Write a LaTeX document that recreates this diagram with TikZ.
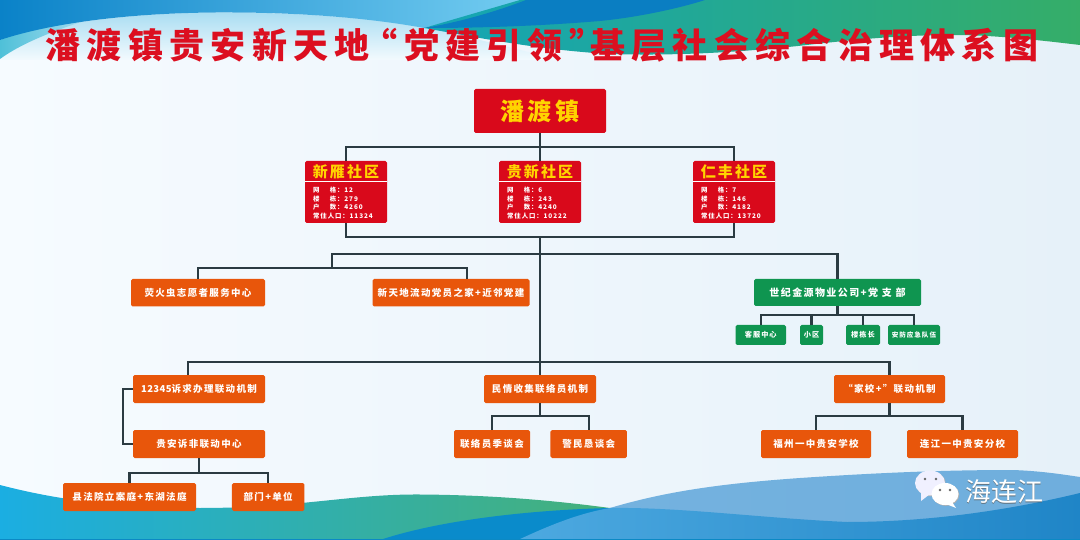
\documentclass[tikz,border=0pt]{standalone}
\usepackage{fontspec}
\setmainfont{Noto Sans CJK SC}
\newfontfamily\titlefont[BoldFont={Noto Sans CJK SC Black},BoldFeatures={LetterSpace=18}]{Noto Sans CJK SC}
\newfontfamily\headfont[BoldFont={Noto Sans CJK SC Black},BoldFeatures={LetterSpace=14}]{Noto Sans CJK SC}
\newfontfamily\boxfont[BoldFeatures={LetterSpace=14}]{Noto Sans CJK SC}
\newfontfamily\digitfont[BoldFeatures={LetterSpace=4}]{Noto Sans CJK SC}
\usetikzlibrary{calc}
\definecolor{linec}{HTML}{2B3B42}
\definecolor{redn}{HTML}{D9091B}
\definecolor{titlec}{HTML}{DC0F20}
\definecolor{orangen}{HTML}{E8560B}
\definecolor{greenn}{HTML}{0F9550}
\definecolor{yellown}{HTML}{FFD400}
\definecolor{bgl}{HTML}{F6FBFF}
\definecolor{bgr}{HTML}{E6F1F9}
\definecolor{topa}{HTML}{0A82C8}
\definecolor{topm}{HTML}{22A4DF}
\definecolor{topb}{HTML}{74CDF1}
\definecolor{palea}{HTML}{A9DDF2}
\definecolor{paleb}{HTML}{F3FAFE}
\definecolor{tealc}{HTML}{4FC0D8}
\definecolor{swoosh}{HTML}{0A7EC2}
\definecolor{gra}{HTML}{14A5B6}
\definecolor{grb}{HTML}{35AD68}
\definecolor{bota}{HTML}{1BAEE2}
\definecolor{botb}{HTML}{45B07A}
\definecolor{midblue}{HTML}{0A8BCB}
\definecolor{lowa}{HTML}{4DA9E0}
\definecolor{lowb}{HTML}{1F85C7}
\definecolor{upa}{HTML}{74B2DF}
\definecolor{upb}{HTML}{6FAEDD}
\tikzset{
  conn/.style={draw=linec,line width=2.4pt,line join=miter},
  basebox/.style={rectangle,rounded corners=1.6pt,inner sep=0pt,text=white,align=center},
  orangebox/.style={basebox,fill=orangen,font=\boxfont\bfseries\fontsize{9.5}{11}\selectfont,minimum height=28pt},
  greenbox/.style={basebox,fill=greenn,font=\boxfont\bfseries\fontsize{10}{12}\selectfont,minimum height=27pt},
  smallgreen/.style={basebox,fill=greenn,font=\boxfont\bfseries\fontsize{7.2}{9}\selectfont,minimum height=20pt},
  commbox/.style={basebox,fill=redn,minimum width=82pt,minimum height=62pt},
  commhead/.style={inner sep=0pt,text=yellown,font=\headfont\bfseries\fontsize{15}{17}\selectfont},
  infotext/.style={inner sep=0pt,anchor=west,text=white,font=\boxfont\bfseries\fontsize{6.4}{7}\selectfont},
}
\newcommand{\community}[7]{%
  \node[commbox] (#1) at (#2,192) {};
  \draw[white,line width=1pt] (#2-41,182) -- (#2+41,182);
  \node[commhead] (#1h) at (#2,172) {#3};
  \node[infotext] (#1a) at (#2-33,190.5) {网\hspace{1.6em}格：#4};
  \node[infotext] (#1b) at (#2-33,199) {楼\hspace{1.6em}栋：#5};
  \node[infotext] (#1c) at (#2-33,207.5) {户\hspace{1.6em}数：#6};
  \node[infotext] (#1d) at (#2-33,216) {常住人口：#7};
}
\begin{document}
\begin{tikzpicture}[x=1pt,y=-1pt]
\useasboundingbox (0,0) rectangle (1080,540);
% ---------- background
\path[left color=bgl,right color=bgr] (0,0) rectangle (1080,540);
% top waves
\path[top color=palea,bottom color=paleb] (0,40) .. controls (60,20) and (150,12) .. (230,12.5)
  .. controls (330,13) and (400,22) .. (440,30) .. controls (480,40) and (520,50) .. (560,60) -- (0,60) -- cycle;
\path[left color=tealc,right color=palea] (0,40) .. controls (25,30) and (50,24) .. (90,19) .. controls (40,35) and (15,48) .. (0,59) -- cycle;
\path[left color=topa,middle color=topm,right color=topb] (0,0) -- (530,0) -- (424,28) .. controls (370,18) and (300,12.5) .. (230,12.5)
  .. controls (150,12) and (60,20) .. (0,40) -- cycle;
\path[left color=gra,right color=grb] (520,0) -- (1080,0) -- (1080,45)
  .. controls (1030,39) and (990,35) .. (953,35) .. controls (900,35) and (850,40) .. (798,46)
  .. controls (740,52) and (680,56) .. (610,54) .. controls (540,50) and (480,38) .. (424,28) -- cycle;
\path[fill=swoosh] (424,28) .. controls (450,24) and (490,14) .. (526,0) -- (705,0)
  .. controls (680,8) and (640,17) .. (600,21) .. controls (540,26) and (480,28) .. (424,28) -- cycle;
% bottom waves
\path[left color=bota,right color=botb] (0,485) .. controls (50,498) and (110,508) .. (200,508)
  .. controls (300,508) and (350,494) .. (420,494.5) .. controls (490,495) and (550,500) .. (610,508) -- (610,540) -- (0,540) -- cycle;
\path[left color=upa,right color=upb] (610,508) .. controls (670,490) and (730,483) .. (800,478)
  .. controls (860,474) and (930,470) .. (1013,470) .. controls (1040,471) and (1060,474) .. (1080,477) -- (1080,540) -- (610,540) -- cycle;
\path[fill=midblue] (380,540) .. controls (440,520) and (530,510) .. (610,508) -- (560,525) -- (518,540) -- cycle;
\path[left color=lowa,right color=lowb] (518,540) .. controls (550,525) and (580,513) .. (610,508)
  .. controls (680,507) and (760,518) .. (847,522) .. controls (930,522) and (1010,510) .. (1080,493) -- (1080,540) -- cycle;
\fill[topa!80!gra] (0,538.5) rectangle (1080,540);
% ---------- title
\node[inner sep=0pt,text=titlec,font=\titlefont\bfseries\fontsize{35}{38}\selectfont] (title) at (542,45) {潘渡镇贵安新天地\hspace{-7pt}“党建引领”\hspace{-14pt}基层社会综合治理体系图};
% ---------- top nodes
\node[basebox,fill=redn,minimum width=132pt,minimum height=44pt,text=yellown,font=\headfont\bfseries\fontsize{24}{26}\selectfont] (town) at (540,111) {潘渡镇};
\community{cl}{346}{新雁社区}{12}{279}{4260}{11324}
\community{cm}{540}{贵新社区}{6}{243}{4240}{10222}
\community{cr}{734}{仁丰社区}{7}{146}{4182}{13720}
% ---------- middle
\node[orangebox,minimum width=134pt,minimum height=27.5pt] (firefly) at (198,292.7) {荧火虫志愿者服务中心};
\node[orangebox,minimum width=157pt,minimum height=27.5pt] (party) at (451,292.7) {新天地流动党员之家+近邻党建};
\node[greenbox,minimum width=167pt] (prop) at (837.5,292.5) {世纪金源物业公司+党 支 部};
\node[smallgreen,minimum width=50.5pt] (g1) at (760.75,335) {客服中心};
\node[smallgreen,minimum width=23pt] (g2) at (811.5,335) {小区};
\node[smallgreen,minimum width=34pt] (g3) at (863,335) {楼栋长};
\node[smallgreen,minimum width=52pt,font=\boxfont\bfseries\fontsize{6.6}{8}\selectfont] (g4) at (914,335) {安防应急队伍};
% ---------- lower
\node[orangebox,minimum width=132pt] (m12345) at (199,389) {{\digitfont\bfseries 12345}诉求办理联动机制};
\node[orangebox,minimum width=132pt] (center) at (199,444) {贵安诉非联动中心};
\node[orangebox,minimum width=133pt] (court) at (129.5,497) {县法院立案庭+东湖法庭};
\node[orangebox,minimum width=72.5pt] (dept) at (268.2,497) {部门+单位};
\node[orangebox,minimum width=112pt] (info) at (540,389) {民情收集联络员机制};
\node[orangebox,minimum width=76pt] (talk1) at (492,444) {联络员季谈会};
\node[orangebox,minimum width=76.5pt] (talk2) at (588.7,444) {警民恳谈会};
\node[orangebox,minimum width=111pt] (school) at (889.5,389) {“家校+”联动机制};
\node[orangebox,minimum width=110pt] (fz) at (816,444) {福州一中贵安学校};
\node[orangebox,minimum width=111pt] (lj) at (962.5,444) {连江一中贵安分校};
% ---------- junctions
\coordinate (busa) at (540,147);
\coordinate (busb) at (540,237);
\coordinate (busc) at (540,254);
\coordinate (busd) at (540,362);
\coordinate (buse) at (332,268);
\coordinate (busf) at (332,254);
\coordinate (busg) at (837.5,315);
\coordinate (bush) at (199,473);
\coordinate (busi) at (540,416);
\coordinate (busj) at (889.5,416);
\coordinate (drop1) at ($(party.north)+(16,0)$);
\coordinate (drop2) at ($(m12345.north)+(-11,0)$);
\coordinate (sidea) at (123,389);
\coordinate (sideb) at (123,444);
% ---------- connectors
\draw[conn] (town.south) -- (cm.north);
\draw[conn] (cl.north) |- (busa) -| (cr.north);
\draw[conn] (cl.south) |- (busb) -| (cr.south);
\draw[conn] (busb) -- (info.north);
\draw[conn] (firefly.north) |- (buse) -| (drop1);
\draw[conn] (buse) -- (busf) -- (busc);
\draw[conn] (busc) -| (prop.north);
\draw[conn] (prop.south) -- (busg);
\draw[conn] (g1.north) |- (busg) -| (g4.north);
\draw[conn] (g2.north) -- (g2.north |- busg);
\draw[conn] (g3.north) -- (g3.north |- busg);
\draw[conn] (drop2) |- (busd) -| (school.north);
\draw[conn] (m12345.west) -- (sidea) -- (sideb) -- (center.west);
\draw[conn] (center.south) -- (bush);
\draw[conn] (court.north) |- (bush) -| (dept.north);
\draw[conn] (info.south) -- (busi);
\draw[conn] (talk1.north) |- (busi) -| (talk2.north);
\draw[conn] (school.south) -- (busj);
\draw[conn] (fz.north) |- (busj) -| (lj.north);
% ---------- logo
\fill[gray!60] (930.8,483.8) ellipse (15 and 12.5);
\fill[white!94!blue] (930,483) ellipse (15 and 12.5);
\fill[white!94!blue] (921,492) -- (921,501) -- (930,494) -- cycle;
\fill[gray!60] (945.8,494.8) ellipse (13.5 and 11);
\fill[white] (945,494) ellipse (13.5 and 11);
\fill[white] (952,502) -- (956,508) -- (946,504) -- cycle;
\foreach \ex/\ey in {925/479,936/479,940/490,950/490}{\fill[gray!80!black] (\ex,\ey) circle (1.4);}
\node[inner sep=0pt,text=gray!70!black,opacity=.7,font=\fontsize{26}{28}\selectfont] (wmshadow) at (1004.7,492.6) {海连江};
\node[inner sep=0pt,text=white,font=\fontsize{26}{28}\selectfont] (wm) at (1004,492) {海连江};
\end{tikzpicture}
\end{document}
